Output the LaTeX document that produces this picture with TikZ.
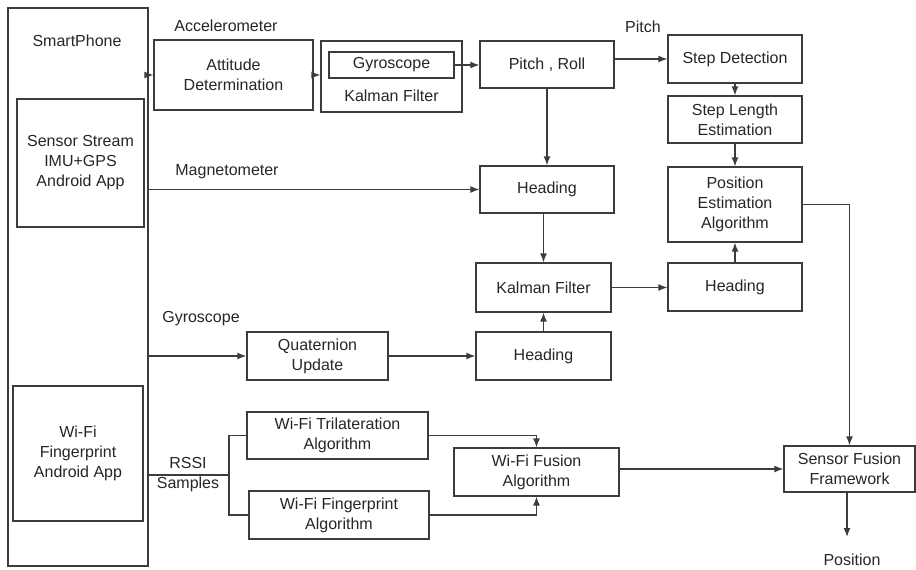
\documentclass[tikz,border=0pt]{standalone}
\usepackage{fontspec}
\setmainfont{Liberation Sans}
\usetikzlibrary{arrows.meta,calc}
\definecolor{ln}{HTML}{3C3C3C}
\definecolor{tx}{HTML}{262626}
\begin{document}
\begin{tikzpicture}[x=1pt,y=-1pt,
  box/.style={draw=ln,line width=1.3pt,rectangle,inner sep=0pt,align=center,text=tx,
    font=\fontsize{16}{20}\selectfont},
  lbl/.style={inner sep=0pt,align=center,text=tx,font=\fontsize{16}{20}\selectfont},
  conn/.style={draw=ln,line width=1.3pt},
  arr/.style={conn,-{Latex[length=9pt,width=7pt]}}]
\useasboundingbox (0,0) rectangle (916,570);
% boxes
\node[box,minimum width=140pt,minimum height=558pt] (phone) at (78,287) {};
\node[lbl] (phonelbl) at (77,41) {SmartPhone};
\node[box,minimum width=127pt,minimum height=128pt] (ssapp) at (80.5,163) {Sensor Stream\\IMU+GPS\\Android App};
\node[box,minimum width=130pt,minimum height=135pt] (wfapp) at (78,453.5) {Wi-Fi\\Fingerprint\\Android App};
\node[box,minimum width=159pt,minimum height=70pt] (att) at (233.5,75) {Attitude\\Determination};
\node[box,minimum width=141pt,minimum height=71pt] (kf1) at (391.5,76.5) {};
\node[box,minimum width=125pt,minimum height=26pt] (gyro) at (391.5,65) {Gyroscope};
\node[lbl] (kf1lbl) at (391.5,96) {Kalman Filter};
\node[box,minimum width=134pt,minimum height=47pt] (pr) at (547,64.5) {Pitch , Roll};
\node[box,minimum width=134pt,minimum height=48pt] (sd) at (735,59) {Step Detection};
\node[box,minimum width=134pt,minimum height=47pt] (sle) at (735,119.5) {Step Length\\Estimation};
\node[box,minimum width=134pt,minimum height=75pt] (pea) at (735,204.5) {Position\\Estimation\\Algorithm};
\node[box,minimum width=134pt,minimum height=47pt] (h1) at (547,189.5) {Heading};
\node[box,minimum width=135pt,minimum height=49pt] (kf2) at (543.5,287.5) {Kalman Filter};
\node[box,minimum width=135pt,minimum height=48pt] (h2) at (543.5,356) {Heading};
\node[box,minimum width=134pt,minimum height=48pt] (h3) at (735,287) {Heading};
\node[box,minimum width=141pt,minimum height=48pt] (qu) at (317.5,356) {Quaternion\\Update};
\node[box,minimum width=181pt,minimum height=47pt] (tri) at (337.5,435.5) {Wi-Fi Trilateration\\Algorithm};
\node[box,minimum width=180pt,minimum height=48pt] (fpa) at (339,515) {Wi-Fi Fingerprint\\Algorithm};
\node[box,minimum width=165pt,minimum height=48pt] (fus) at (536.5,472) {Wi-Fi Fusion\\Algorithm};
\node[box,minimum width=131pt,minimum height=46pt] (sff) at (849.5,469) {Sensor Fusion\\Framework};
% labels
\node[lbl] (acc) at (226,26) {Accelerometer};
\node[lbl] (pitch) at (643,27) {Pitch};
\node[lbl] (mag) at (227,172) {Magnetometer};
\node[lbl] (gyl) at (201,319) {Gyroscope};
\node[lbl] (rssi) at (188,475) {RSSI\\Samples};
\node[lbl] (pos) at (852,560) {Position};
\coordinate (split) at (229,475);
\coordinate (posend) at (847,537);
% connectors
\draw[arr] (phone.east |- att.west) -- (att.west);
\draw[arr] (att.east) -- (kf1.west |- att.east);
\draw[arr] (gyro.east) -- (pr.west |- gyro.east);
\draw[arr] (pr.east |- sd.west) -- (sd.west);
\draw[arr] (sd.south) -- (sle.north);
\draw[arr] (sle.south) -- (pea.north);
\draw[arr] (h3.north) -- (pea.south);
\draw[arr] (pea.east) -| (sff.north);
\draw[arr] (pr.south) -- (h1.north);
\draw[arr] (phone.east |- h1.west) -- (h1.west);
\draw[arr] (kf2.north |- h1.south) -- (kf2.north);
\draw[arr] (h2.north) -- (kf2.south);
\draw[arr] (kf2.east) -- (h3.west |- kf2.east);
\draw[arr] (phone.east |- qu.west) -- (qu.west);
\draw[arr] (qu.east) -- (h2.west |- qu.east);
\draw[conn] (phone.east |- split) -- (split);
\draw[conn] (tri.west) -| (split) |- (fpa.west);
\draw[arr] (tri.east) -| (fus.north);
\draw[arr] (fpa.east) -| (fus.south);
\draw[arr] (fus.east |- sff.west) -- (sff.west);
\draw[arr] (posend |- sff.south) -- (posend);
\end{tikzpicture}
\end{document}
